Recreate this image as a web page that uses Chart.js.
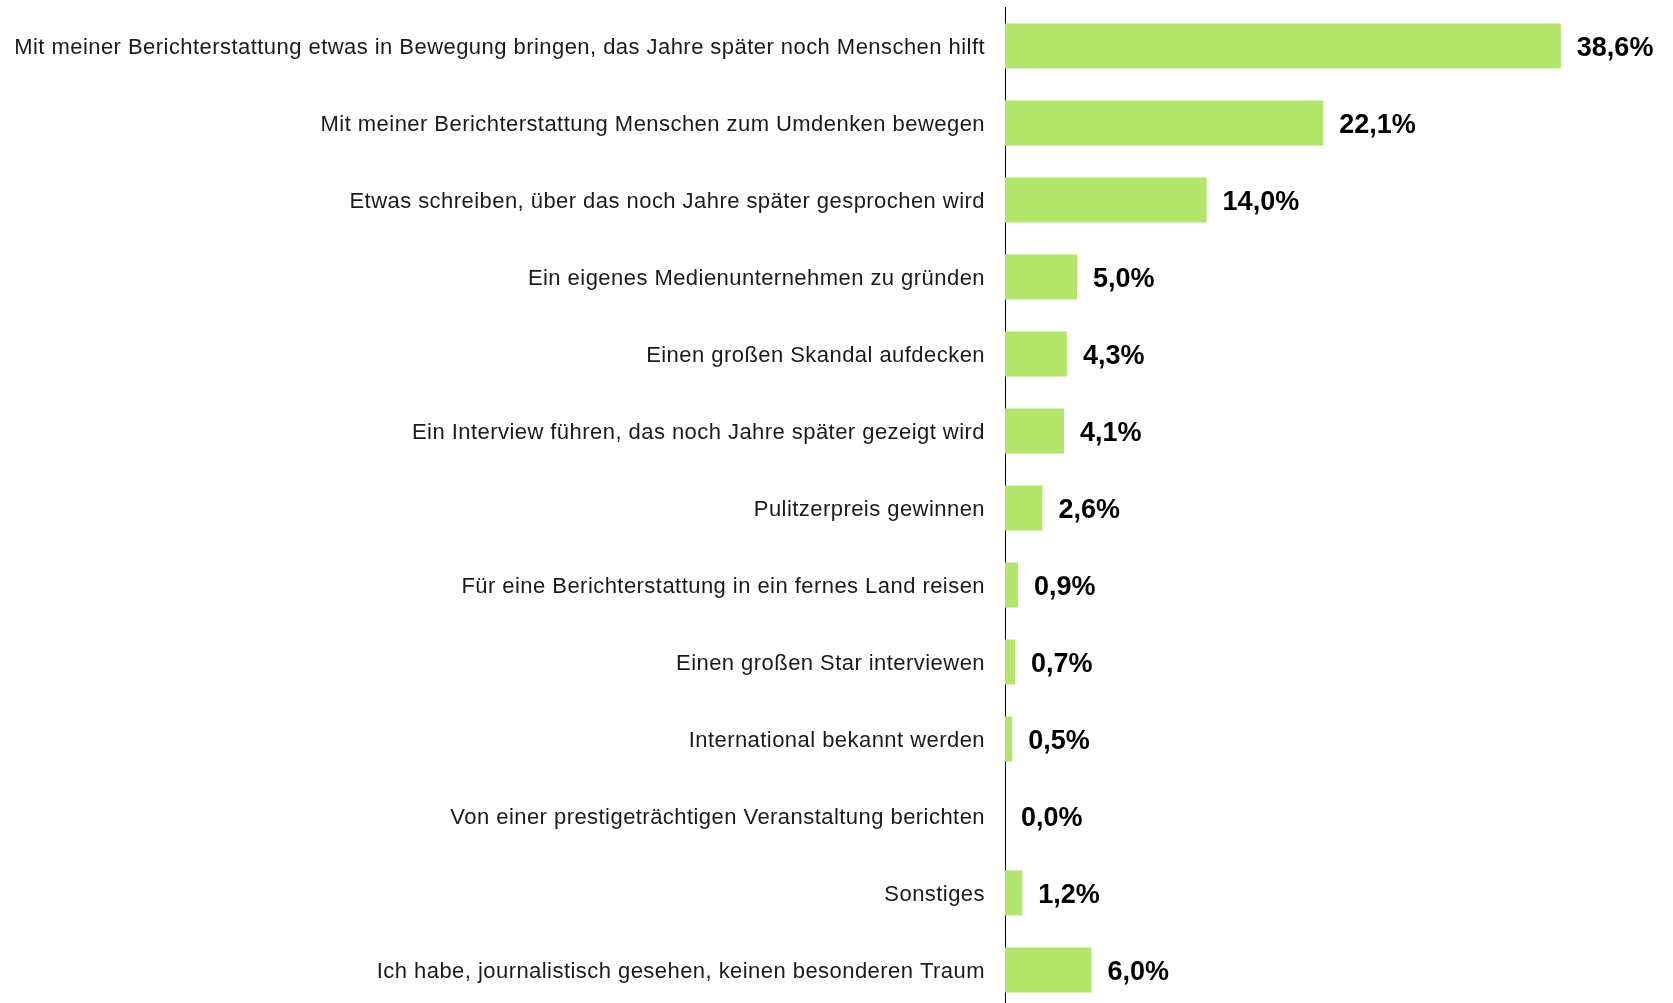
<!DOCTYPE html>
<html>
<head>
<meta charset="utf-8">
<script src="https://cdn.jsdelivr.net/npm/chart.js@4.4.0/dist/chart.umd.min.js"></script>
<style>
  html, body { margin: 0; padding: 0; background: #fff; overflow: hidden; }
  canvas { display: block; }
</style>
</head>
<body>
<canvas id="chart" width="1673" height="1010"></canvas>
<script>
const categories = [
    'Mit meiner Berichterstattung etwas in Bewegung bringen, das Jahre später noch Menschen hilft',
    'Mit meiner Berichterstattung Menschen zum Umdenken bewegen',
    'Etwas schreiben, über das noch Jahre später gesprochen wird',
    'Ein eigenes Medienunternehmen zu gründen',
    'Einen großen Skandal aufdecken',
    'Ein Interview führen, das noch Jahre später gezeigt wird',
    'Pulitzerpreis gewinnen',
    'Für eine Berichterstattung in ein fernes Land reisen',
    'Einen großen Star interviewen',
    'International bekannt werden',
    'Von einer prestigeträchtigen Veranstaltung berichten',
    'Sonstiges',
    'Ich habe, journalistisch gesehen, keinen besonderen Traum'
];
const shares = [38.6, 22.1, 14.0, 5.0, 4.3, 4.1, 2.6, 0.9, 0.7, 0.5, 0.0, 1.2, 6.0];

const fmt = v => v.toFixed(1).replace('.', ',') + '%';

// slightly wider tracking for the category labels
const tracking = {
    id: 'tracking',
    beforeDraw(chart) { chart.ctx.letterSpacing = '0.45px'; },
    afterDraw(chart) { chart.ctx.letterSpacing = '0px'; }
};

// value labels to the right of each bar
const valueLabels = {
    id: 'valueLabels',
    afterDatasetsDraw(chart) {
        const ctx = chart.ctx;
        const meta = chart.getDatasetMeta(0);
        ctx.save();
        ctx.letterSpacing = '0px';
        ctx.font = 'bold 27px "Liberation Sans", Arial, sans-serif';
        ctx.fillStyle = '#000';
        ctx.textAlign = 'left';
        ctx.textBaseline = 'middle';
        meta.data.forEach((bar, i) => {
            ctx.fillText(fmt(shares[i]), bar.x + 16, bar.y + 2.5);
        });
        ctx.restore();
    }
};

new Chart(document.getElementById('chart').getContext('2d'), {
    type: 'bar',
    data: {
        labels: categories,
        datasets: [{
            data: shares,
            backgroundColor: '#b2e66a',
            borderWidth: 0,
            barPercentage: 0.585,
            categoryPercentage: 1.0
        }]
    },
    options: {
        indexAxis: 'y',
        responsive: false,
        animation: false,
        layout: { padding: { left: 10, right: 92, top: 7.5, bottom: 1.5 } },
        plugins: { legend: { display: false }, tooltip: { enabled: false } },
        scales: {
            x: { display: false, min: 0, max: 40 },
            y: {
                afterFit(scale) {
                    scale.width = 995;
                    scale.paddingTop = 0;
                    scale.paddingBottom = 0;
                },
                grid: { display: false, drawTicks: false },
                border: { display: true, color: '#000', width: 1 },
                ticks: {
                    padding: 20,
                    labelOffset: 2,
                    color: '#1a1a1a',
                    font: { family: '"Liberation Sans", Arial, sans-serif', size: 22 }
                }
            }
        }
    },
    plugins: [tracking, valueLabels]
});
</script>
</body>
</html>
